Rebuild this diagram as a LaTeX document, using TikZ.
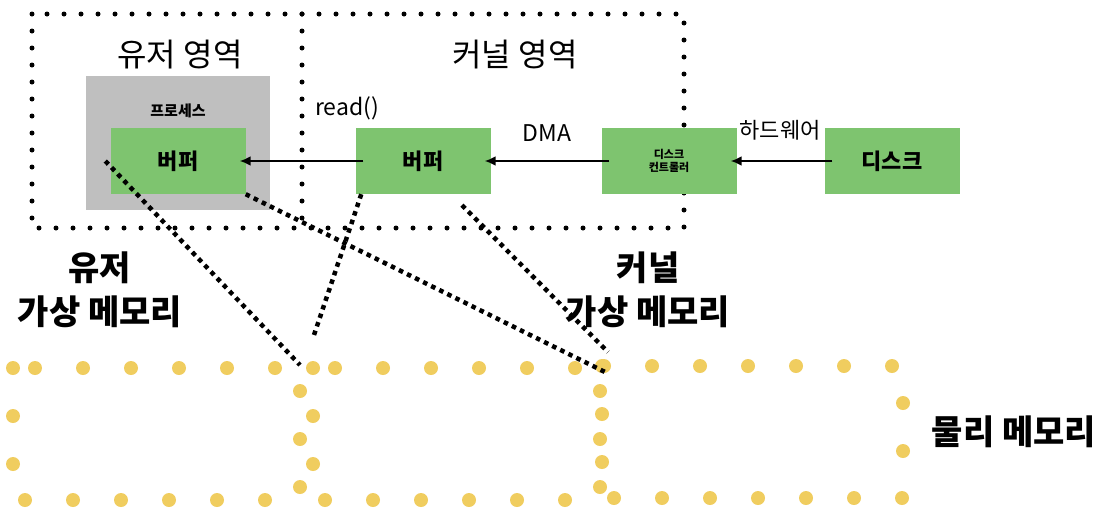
\documentclass[tikz,border=0pt]{standalone}
\usepackage{fontspec}
\setmainfont{Noto Sans CJK KR}
\usetikzlibrary{arrows.meta, positioning, calc}
\definecolor{bufgreen}{HTML}{7EC46F}
\definecolor{procgray}{HTML}{BFBFBF}
\definecolor{memyellow}{HTML}{F0CD5F}

\begin{document}
\begin{tikzpicture}[x=1pt, y=-1pt,
    buf/.style={fill=bufgreen, minimum width=135pt, minimum height=66pt, inner sep=0pt, align=center, font=\bfseries\fontsize{22}{25}\selectfont},
    region/.style={line width=5pt, line cap=round, dash pattern=on 0pt off 17pt},
    memdots/.style={draw=memyellow, line width=14pt, line cap=round, dash pattern=on 0pt off 48pt},
    maplink/.style={line width=4.5pt, dash pattern=on 4.5pt off 4.5pt},
    flow/.style={line width=2pt, -{Latex[length=11pt,width=10pt]}, shorten <=-8pt, shorten >=-6pt},
    title/.style={font=\fontsize{32}{38}\selectfont},
    small/.style={font=\fontsize{23}{26}\selectfont},
    memlabel/.style={font=\bfseries\fontsize{34}{44}\selectfont, align=center}
]
    \useasboundingbox (0,0) rectangle (1108,512);

    % User / kernel regions
    \draw[region] (32,14) rectangle (684,228);
    \draw[region] (302,14) -- (302,228);
    \node[title] (utitle) at (180,55) {유저 영역};
    \node[title] (ktitle) at (515,55) {커널 영역};

    % Process and buffers
    \node[fill=procgray, minimum width=184pt, minimum height=134pt] (proc) at (178,143) {};
    \node[font=\bfseries\fontsize{15}{17}\selectfont] (proclabel) at (178,111) {프로세스};
    \node[buf] (ubuf) at (178,161) {버퍼};
    \node[buf] (kbuf) at (423,161) {버퍼};
    \node[buf, font=\bfseries\fontsize{11}{13}\selectfont] (ctrl) at (669,161) {디스크\\컨트롤러};
    \node[buf] (disk) at (892,161) {디스크};

    % Data flow
    \draw[flow] (kbuf.west) -- (ubuf.east);
    \draw[flow] (ctrl.west) -- (kbuf.east);
    \draw[flow] (disk.west) -- (ctrl.east);
    \node[small] (readlabel) at (347,108) {read()};
    \node[small] (dmalabel) at (547,133) {DMA};
    \node[small, font=\fontsize{22}{25}\selectfont] (hwlabel) at (780,130) {하드웨어};

    % Physical memory
    \draw[memdots] (13,368) rectangle (300,500);
    \draw[memdots] (313,368) rectangle (600,500);
    \draw[memdots] (602,366) rectangle (903,498);
    \node[memlabel] (umem) at (100,290) {유저\\가상 메모리};
    \node[memlabel] (kmem) at (648,290) {커널\\가상 메모리};
    \node[memlabel] (pmem) at (1014,432) {물리 메모리};

    % Mappings
    \coordinate (pA) at (300,365);
    \coordinate (pB) at (605,372);
    \coordinate (kA) at (313,338);
    \coordinate (kB) at (608,352);
    \coordinate (kmap) at ([xshift=39pt, yshift=-11pt]kbuf.south);
    \draw[maplink] ([xshift=-5pt]ubuf.west) -- (pA);
    \draw[maplink] (ubuf.south east) -- (pB);
    \draw[maplink] ([xshift=6pt]kbuf.south west) -- (kA);
    \draw[maplink] (kmap) -- (kB);
\end{tikzpicture}
\end{document}
